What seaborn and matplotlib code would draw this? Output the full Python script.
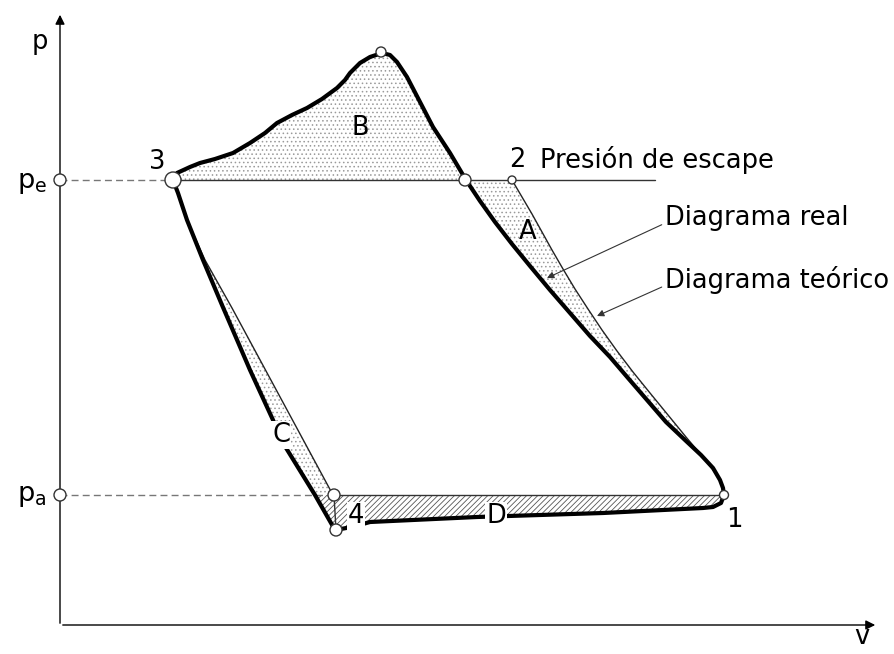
import numpy as np
import pandas as pd
import seaborn as sns
import matplotlib.pyplot as plt

# p-v diagram (schematic), coordinates in pixel units
# real cycle: 3 -> peak -> crossing -> 1 -> bottom -> 4 -> 3
real_top_v = [173, 177, 190, 200, 215, 233, 250, 265, 277, 292, 307, 322, 337, 345, 350, 360, 370, 382,
              390, 397, 407, 420, 433, 450, 466]
real_top_p = [180, 173, 167, 163, 159, 153, 143, 133, 123, 115, 108, 99, 88, 80, 73, 63, 57, 53,
              55, 62, 77, 102, 127, 153, 180]
real_exp_v = [480, 495, 512, 530, 550, 570, 590, 610, 628, 647, 666, 685, 701, 713, 720, 723, 724]
real_exp_p = [201, 222, 244, 266, 290, 313, 336, 357, 378, 400, 422, 440, 455, 468, 480, 488, 495]
real_bot_v = [721, 713, 703, 603, 477, 370, 352, 335]
real_bot_p = [503, 507, 508, 513, 517, 522, 527, 530]
real_comp_v = [315, 283, 273, 250, 222, 203, 187, 178, 173]
real_comp_p = [495, 443, 420, 370, 305, 260, 220, 193, 180]

# theoretical cycle
theo_exp_v = [512, 522, 532, 542, 552, 563, 575, 588, 602, 617, 633, 650, 668, 686, 702, 714, 721, 724]
theo_exp_p = [180, 197, 214, 232, 250, 269, 289, 309, 330, 351, 372, 393, 415, 437, 456, 471, 483, 495]
theo_comp_v = [333, 232, 205, 187, 178, 173]
theo_comp_p = [495, 308, 260, 220, 193, 180]

p_e = 180
p_a = 495
v_axis = 60
v_escape_end = 655

# circles: (v, p, radius px)
circ_v = [60, 60, 173, 465, 512, 381, 724, 334, 336]
circ_p = [180, 495, 180, 180, 180, 52, 495, 495, 530]
circ_r = [6, 6, 8, 6, 4, 5, 4.5, 6, 6]

labels = ['3', '2', 'B', 'A', 'C', '4', 'D', '1']
label_v = [157, 517, 360, 528, 281, 356, 496, 734]
label_p = [162, 160, 128, 232, 435, 516, 516, 520]

sns.set_style('white')
plt.rcParams['font.family'] = ['DejaVu Sans']
plt.rcParams['text.color'] = 'black'
plt.rcParams['mathtext.default'] = 'regular'
plt.rcParams['hatch.linewidth'] = 0.6

fig = plt.figure(figsize=(8.94, 6.54), dpi=100)
ax = fig.add_axes([0, 0, 1, 1])

real_v = real_top_v + real_exp_v + real_bot_v + real_comp_v
real_p = real_top_p + real_exp_p + real_bot_p + real_comp_p

# dotted areas B, A, C
dots = dict(facecolor='white', edgecolor='#9a9a9a', hatch='....', lw=0, zorder=1)
ax.fill(real_top_v, real_top_p, **dots)
ax.fill([466] + real_exp_v + theo_exp_v[::-1], [180] + real_exp_p + theo_exp_p[::-1], **dots)
ax.fill(theo_comp_v + real_comp_v[::-1], theo_comp_p + real_comp_p[::-1], **dots)

# hatched area D
ax.fill([315, 724] + real_bot_v + [315], [p_a, p_a] + real_bot_p + [p_a],
        facecolor='white', edgecolor='#555555', hatch='//////', lw=0, zorder=1)

# axes with arrows
ax.annotate('', xy=(v_axis, 12), xytext=(v_axis, 626),
            arrowprops=dict(arrowstyle='-|>', lw=1.0, color='black', mutation_scale=14))
ax.annotate('', xy=(878, 625), xytext=(v_axis, 625),
            arrowprops=dict(arrowstyle='-|>', lw=1.0, color='black', mutation_scale=14))

# dashed reference pressures
ax.plot([v_axis, 173], [p_e, p_e], ls=(0, (5, 3)), color='#777777', lw=1.0, zorder=2)
ax.plot([v_axis, 333], [p_a, p_a], ls=(0, (5, 3)), color='#777777', lw=1.0, zorder=2)

# theoretical diagram (thin)
ax.plot([173, v_escape_end], [p_e, p_e], color='#333333', lw=1.0, zorder=3)
ax.plot([333, 724], [p_a, p_a], color='#333333', lw=1.0, zorder=3)
ax.plot([334, 336], [p_a, 530], color='#333333', lw=1.0, zorder=3)
df_te = pd.DataFrame({'v': theo_exp_v, 'p': theo_exp_p})
df_tc = pd.DataFrame({'v': theo_comp_v, 'p': theo_comp_p})
sns.lineplot(data=df_te, x='v', y='p', sort=False, estimator=None, color='#222222', lw=1.0, ax=ax, zorder=3)
sns.lineplot(data=df_tc, x='v', y='p', sort=False, estimator=None, color='#222222', lw=1.0, ax=ax, zorder=3)

# real diagram (thick)
df_real = pd.DataFrame({'v': real_v, 'p': real_p})
sns.lineplot(data=df_real, x='v', y='p', sort=False, estimator=None, color='black', lw=3.0,
             ax=ax, zorder=4)
ax.set_xlim(0, 894)
ax.set_ylim(654, 0)
ax.axis('off')

# small circles
df_c = pd.DataFrame({'v': circ_v, 'p': circ_p, 's': [(1.44 * r) ** 2 for r in circ_r]})
ax.scatter(df_c['v'], df_c['p'], s=df_c['s'], facecolor='white', edgecolor='#333333', lw=1.0, zorder=6)

# labels
fs = 18.5
for t, x, y in zip(labels, label_v, label_p):
    ax.text(x, y, t, fontsize=fs, ha='center', va='center', zorder=7,
            bbox=dict(facecolor='white', edgecolor='none', pad=0.5) if t in ('C', '4', 'D') else None)

ax.text(40, 42, 'p', fontsize=fs, ha='center', va='center')
ax.text(862, 637, 'v', fontsize=fs, ha='center', va='center')
ax.text(32, 183, '$p_e$', fontsize=fs + 1, ha='center', va='center')
ax.text(32, 496, '$p_a$', fontsize=fs + 1, ha='center', va='center')
ax.text(540, 160, 'Presión de escape', fontsize=fs, ha='left', va='center')

ax.annotate('Diagrama real', xy=(547, 278), xytext=(665, 218), fontsize=fs, va='center',
            arrowprops=dict(arrowstyle='-|>', lw=0.8, color='#333333', mutation_scale=10,
                            shrinkA=0, shrinkB=0, relpos=(0, 0.3)))
ax.annotate('Diagrama teórico', xy=(597, 316), xytext=(665, 280), fontsize=fs, va='center',
            arrowprops=dict(arrowstyle='-|>', lw=0.8, color='#333333', mutation_scale=10,
                            shrinkA=0, shrinkB=0, relpos=(0, 0.3)))

fig.savefig('out.png', dpi=100)
